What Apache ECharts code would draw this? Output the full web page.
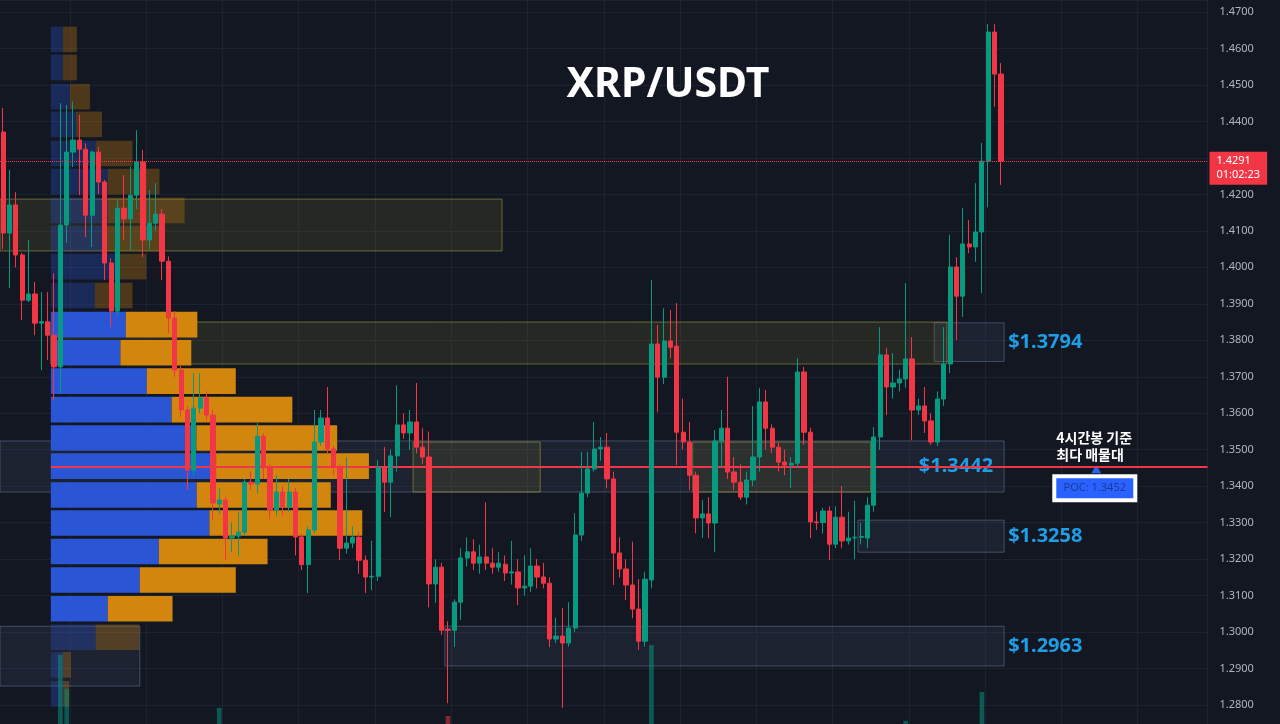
<!DOCTYPE html>
<html>
<head>
<meta charset="utf-8">
<title>XRP/USDT 4H</title>
<script src="https://cdn.jsdelivr.net/npm/echarts@6/dist/echarts.min.js"></script>
<style>
  html, body { margin: 0; padding: 0; background: #131722; }
  #chart { width: 1280px; height: 724px; }
</style>
</head>
<body>
<div id="chart"></div>
<script>
// 4h candles, oldest -> newest, [open, close, low, high]
const candles = [
  [1.4371, 1.4094, 1.4050, 1.4437], [1.4094, 1.4171, 1.3943, 1.4267], [1.4171, 1.4034, 1.4000, 1.4206],
  [1.4034, 1.3910, 1.3856, 1.4040], [1.3910, 1.3927, 1.3905, 1.4075], [1.3927, 1.3847, 1.3814, 1.3960],
  [1.3847, 1.3851, 1.3718, 1.3932], [1.3851, 1.3814, 1.3746, 1.3932], [1.3814, 1.3727, 1.3636, 1.3984],
  [1.3727, 1.4116, 1.3655, 1.4450], [1.4116, 1.4316, 1.4067, 1.4445], [1.4316, 1.4349, 1.4275, 1.4455],
  [1.4349, 1.4324, 1.4198, 1.4418], [1.4324, 1.4143, 1.4083, 1.4340], [1.4143, 1.4316, 1.4056, 1.4320],
  [1.4316, 1.4234, 1.4200, 1.4330], [1.4234, 1.4012, 1.3965, 1.4240], [1.4012, 1.3880, 1.3836, 1.4025],
  [1.3880, 1.4162, 1.3870, 1.4185], [1.4162, 1.4133, 1.4075, 1.4253], [1.4133, 1.4198, 1.4047, 1.4275],
  [1.4198, 1.4289, 1.4160, 1.4376], [1.4289, 1.4075, 1.4028, 1.4322], [1.4075, 1.4121, 1.4050, 1.4212],
  [1.4121, 1.4146, 1.4100, 1.4231], [1.4146, 1.4017, 1.3965, 1.4160], [1.4017, 1.3861, 1.3820, 1.4030],
  [1.3861, 1.3718, 1.3700, 1.3880], [1.3718, 1.3609, 1.3590, 1.3730], [1.3609, 1.3444, 1.3389, 1.3620],
  [1.3444, 1.3614, 1.3430, 1.3710], [1.3614, 1.3642, 1.3600, 1.3710], [1.3642, 1.3595, 1.3580, 1.3660],
  [1.3595, 1.3354, 1.3307, 1.3610], [1.3351, 1.3362, 1.3325, 1.3394], [1.3362, 1.3258, 1.3197, 1.3370],
  [1.3258, 1.3263, 1.3220, 1.3300], [1.3263, 1.3274, 1.3210, 1.3330], [1.3274, 1.3411, 1.3265, 1.3420],
  [1.3411, 1.3406, 1.3390, 1.3440], [1.3406, 1.3537, 1.3380, 1.3573], [1.3537, 1.3450, 1.3420, 1.3545],
  [1.3450, 1.3335, 1.3310, 1.3460], [1.3335, 1.3384, 1.3320, 1.3430], [1.3384, 1.3343, 1.3320, 1.3400],
  [1.3343, 1.3384, 1.3330, 1.3420], [1.3384, 1.3261, 1.3210, 1.3395], [1.3261, 1.3185, 1.3170, 1.3270],
  [1.3185, 1.3280, 1.3107, 1.3290], [1.3280, 1.3521, 1.3270, 1.3609], [1.3521, 1.3587, 1.3510, 1.3609],
  [1.3587, 1.3502, 1.3490, 1.3672], [1.3502, 1.3452, 1.3430, 1.3510], [1.3452, 1.3230, 1.3197, 1.3460],
  [1.3230, 1.3244, 1.3215, 1.3480], [1.3244, 1.3260, 1.3230, 1.3290], [1.3260, 1.3197, 1.3160, 1.3275],
  [1.3197, 1.3151, 1.3107, 1.3210], [1.3151, 1.3153, 1.3115, 1.3250], [1.3153, 1.3452, 1.3140, 1.3472],
  [1.3452, 1.3411, 1.3329, 1.3507], [1.3411, 1.3483, 1.3315, 1.3500], [1.3483, 1.3568, 1.3440, 1.3677],
  [1.3568, 1.3546, 1.3530, 1.3600], [1.3546, 1.3576, 1.3500, 1.3609], [1.3576, 1.3507, 1.3490, 1.3683],
  [1.3507, 1.3480, 1.3460, 1.3560], [1.3480, 1.3132, 1.3068, 1.3550], [1.3132, 1.3178, 1.3080, 1.3200],
  [1.3178, 1.3005, 1.2992, 1.3190], [1.3008, 1.3005, 1.2805, 1.3030], [1.3005, 1.3082, 1.2959, 1.3090],
  [1.3082, 1.3203, 1.3033, 1.3230], [1.3203, 1.3220, 1.3180, 1.3260], [1.3220, 1.3189, 1.3170, 1.3255],
  [1.3189, 1.3206, 1.3160, 1.3240], [1.3206, 1.3189, 1.3170, 1.3356], [1.3189, 1.3178, 1.3160, 1.3230],
  [1.3178, 1.3189, 1.3165, 1.3220], [1.3186, 1.3162, 1.3140, 1.3210], [1.3162, 1.3165, 1.3130, 1.3250],
  [1.3165, 1.3121, 1.3074, 1.3200], [1.3121, 1.3126, 1.3100, 1.3211], [1.3126, 1.3181, 1.3110, 1.3230],
  [1.3181, 1.3151, 1.3120, 1.3200], [1.3151, 1.3134, 1.3120, 1.3190], [1.3134, 1.2981, 1.2959, 1.3150],
  [1.2981, 1.2989, 1.2970, 1.3040], [1.2989, 1.2970, 1.2792, 1.3066], [1.2970, 1.3011, 1.2960, 1.3082],
  [1.3011, 1.3266, 1.3000, 1.3326], [1.3266, 1.3381, 1.3250, 1.3494], [1.3381, 1.3447, 1.3370, 1.3494],
  [1.3447, 1.3502, 1.3440, 1.3576], [1.3502, 1.3507, 1.3470, 1.3535], [1.3507, 1.3420, 1.3394, 1.3546],
  [1.3420, 1.3217, 1.3129, 1.3440], [1.3217, 1.3173, 1.3150, 1.3260], [1.3173, 1.3129, 1.3088, 1.3200],
  [1.3129, 1.3063, 1.3038, 1.3248], [1.3063, 1.2975, 1.2951, 1.3145], [1.2975, 1.3145, 1.2960, 1.3165],
  [1.3143, 1.3790, 1.3120, 1.3965], [1.3790, 1.3699, 1.3603, 1.3842], [1.3699, 1.3798, 1.3680, 1.3888],
  [1.3798, 1.3781, 1.3750, 1.3883], [1.3784, 1.3548, 1.3458, 1.3902], [1.3548, 1.3521, 1.3500, 1.3640],
  [1.3521, 1.3430, 1.3389, 1.3576], [1.3430, 1.3313, 1.3271, 1.3440], [1.3313, 1.3324, 1.3258, 1.3362],
  [1.3324, 1.3299, 1.3258, 1.3370], [1.3299, 1.3524, 1.3219, 1.3554], [1.3524, 1.3559, 1.3450, 1.3609],
  [1.3559, 1.3439, 1.3420, 1.3700], [1.3439, 1.3411, 1.3389, 1.3480], [1.3411, 1.3370, 1.3362, 1.3460],
  [1.3370, 1.3417, 1.3350, 1.3440], [1.3417, 1.3480, 1.3400, 1.3620], [1.3480, 1.3631, 1.3440, 1.3669],
  [1.3631, 1.3559, 1.3500, 1.3664], [1.3559, 1.3507, 1.3491, 1.3570], [1.3507, 1.3466, 1.3440, 1.3520],
  [1.3466, 1.3458, 1.3430, 1.3500], [1.3458, 1.3463, 1.3395, 1.3480], [1.3463, 1.3713, 1.3450, 1.3751],
  [1.3713, 1.3548, 1.3513, 1.3727], [1.3548, 1.3302, 1.3258, 1.3560], [1.3302, 1.3300, 1.3280, 1.3330],
  [1.3300, 1.3332, 1.3270, 1.3340], [1.3332, 1.3241, 1.3197, 1.3345], [1.3241, 1.3315, 1.3230, 1.3345],
  [1.3315, 1.3250, 1.3230, 1.3400], [1.3250, 1.3258, 1.3240, 1.3330], [1.3258, 1.3260, 1.3200, 1.3360],
  [1.3260, 1.3262, 1.3240, 1.3300], [1.3258, 1.3348, 1.3230, 1.3370], [1.3348, 1.3535, 1.3330, 1.3562],
  [1.3535, 1.3760, 1.3500, 1.3836], [1.3760, 1.3672, 1.3595, 1.3779], [1.3672, 1.3683, 1.3640, 1.3765],
  [1.3683, 1.3694, 1.3660, 1.3720], [1.3694, 1.3749, 1.3670, 1.3957], [1.3749, 1.3609, 1.3526, 1.3809],
  [1.3609, 1.3620, 1.3595, 1.3640], [1.3620, 1.3579, 1.3546, 1.3672], [1.3579, 1.3521, 1.3513, 1.3600],
  [1.3521, 1.3639, 1.3510, 1.3660], [1.3639, 1.3735, 1.3620, 1.3836], [1.3735, 1.4001, 1.3710, 1.4089],
  [1.4001, 1.3921, 1.3801, 1.4028], [1.3921, 1.4064, 1.3864, 1.4163], [1.4064, 1.4056, 1.4039, 1.4130],
  [1.4056, 1.4097, 1.4015, 1.4231], [1.4097, 1.4291, 1.3929, 1.4341], [1.4291, 1.4645, 1.4165, 1.4667],
  [1.4645, 1.4530, 1.4440, 1.4667], [1.4530, 1.4291, 1.4226, 1.4560]
];

// volume bars that reach into the visible pane (candle index -> volume, M XRP)
const volumeIndex = [9, 10, 34, 70, 102, 142, 154];
const volumeValue = [93, 72, 60, 55, 99, 52, 70];

// visible-range volume profile: row price, buy volume, sell volume
const vpPrice = [1.4625, 1.4548, 1.4468, 1.4392, 1.4312, 1.4235, 1.4156, 1.4079, 1.4002, 1.3923, 1.3843, 1.3766,
                 1.3688, 1.3610, 1.3532, 1.3455, 1.3376, 1.3299, 1.3221, 1.3143, 1.3064, 1.2986, 1.2910, 1.2831];
const vpBuy   = [3.8, 3.8, 6.0, 7.9, 14.1, 17.9, 17.9, 17.4, 21.0, 13.8, 23.6, 21.9,
                 30.2, 38.0, 45.8, 52.0, 45.9, 49.9, 34.0, 28.0, 17.9, 14.1, 3.8, 3.8];
const vpSell  = [4.4, 4.4, 6.3, 8.2, 11.6, 16.3, 24.2, 18.5, 9.1, 11.9, 22.5, 22.3,
                 28.0, 38.0, 44.3, 48.1, 42.2, 48.1, 34.2, 30.2, 20.4, 13.8, 2.5, 2.0];
const vaHigh = 1.3880, vaLow = 1.3025;
const pocPrice = 1.3452;
const lastPrice = 1.4291;
const countdown = '01:02:23';

// drawn zones: [first candle, last candle, top price, bottom price]
const oliveZones = [
  [0, 78, 1.4187, 1.4045],
  [8, 148, 1.3850, 1.3735],
  [65, 84, 1.3521, 1.3384],
  [109, 136, 1.3521, 1.3384]
];
const steelZones = [
  [0, 157, 1.3524, 1.3384],
  [147, 157, 1.3848, 1.3742],
  [135, 157, 1.3307, 1.3219],
  [70, 157, 1.3016, 1.2907],
  [0, 21, 1.3016, 1.2852]
];
const steelLabels = ['$1.3442', '$1.3794', '$1.3258', '$1.2963', ''];

const slotCount = 190;
const slots = [];
for (let i = 0; i < slotCount; i++) slots.push(i);

const upColor = '#089981';
const downColor = '#f23645';

let volumeData = candles.map(() => null);
volumeIndex.forEach((idx, k) => {
  let c = candles[idx];
  volumeData[idx] = {
    value: volumeValue[k],
    itemStyle: { color: c[1] >= c[0] ? 'rgba(8,153,129,0.5)' : 'rgba(242,54,69,0.5)' }
  };
});

function zoneRenderer(fill, stroke, labels) {
  return function (params, api) {
    let half = api.size([1, 0])[0] / 2;
    let p1 = api.coord([api.value(0), api.value(2)]);
    let p2 = api.coord([api.value(1), api.value(3)]);
    let x = p1[0] - half;
    let w = p2[0] + half - x;
    let children = [{
      type: 'rect',
      shape: { x: x, y: p1[1], width: w, height: p2[1] - p1[1] },
      style: { fill: fill, stroke: stroke, lineWidth: 1 }
    }];
    let text = labels ? labels[params.dataIndex] : '';
    if (text) {
      let inside = params.dataIndex === 0;
      children.push({
        type: 'text',
        style: {
          text: text,
          x: inside ? x + w - 11 : x + w + 4,
          y: (p1[1] + p2[1]) / 2,
          align: inside ? 'right' : 'left',
          verticalAlign: 'middle',
          fill: '#1f9ee6',
          font: 'bold 20px "Noto Sans"'
        }
      });
    }
    return { type: 'group', children: children };
  };
}

function renderProfile(params, api) {
  let price = api.value(0);
  let buy = api.value(1);
  let sell = api.value(2);
  let h = api.size([0, 0.0078])[1] * 0.9;
  let a = api.coord([0, price]);
  let b = api.coord([buy, price]);
  let c = api.coord([buy + sell, price]);
  let inVA = price <= vaHigh && price >= vaLow;
  let blue = inVA ? 'rgba(42,86,214,1)' : 'rgba(42,86,214,0.3)';
  let orange = inVA ? 'rgba(211,134,14,1)' : 'rgba(211,134,14,0.3)';
  return {
    type: 'group',
    children: [
      { type: 'rect', shape: { x: a[0], y: a[1] - h / 2, width: b[0] - a[0], height: h }, style: { fill: blue } },
      { type: 'rect', shape: { x: b[0], y: a[1] - h / 2, width: c[0] - b[0], height: h }, style: { fill: orange } }
    ]
  };
}

const vpAxisMin = -16, vpAxisMax = 364;
const chart = echarts.init(document.getElementById('chart'));

const option = {
  backgroundColor: '#131722',
  animation: false,
  grid: { left: -2, right: 72.5, top: 0, bottom: 0 },
  xAxis: [
    {
      type: 'category', data: slots, boundaryGap: true,
      axisLine: { show: false }, axisTick: { show: false }, axisLabel: { show: false },
      splitLine: { show: true, interval: (i) => i % 12 === 11, lineStyle: { color: '#1d2231' } }
    },
    { type: 'value', min: vpAxisMin, max: vpAxisMax, show: false }
  ],
  yAxis: [
    {
      type: 'value', position: 'right', min: 1.2748, max: 1.4733,
      minInterval: 0.01, maxInterval: 0.01, splitNumber: 20,
      axisLine: { show: false }, axisTick: { show: false },
      axisLabel: {
        color: '#b2b5be', fontSize: 11, fontFamily: 'Noto Sans', margin: 12,
        formatter: (v) => Math.abs(v * 100 - Math.round(v * 100)) < 1e-6 ? v.toFixed(4) : ''
      },
      splitLine: { lineStyle: { color: '#1d2231' } }
    },
    { type: 'value', min: 50, max: 500, show: false }
  ],
  series: [
    {
      type: 'custom', name: 'zones', xAxisIndex: 0, yAxisIndex: 0,
      renderItem: zoneRenderer('rgba(92,110,150,0.13)', 'rgba(120,136,172,0.45)', steelLabels),
      encode: { x: [0, 1], y: [2, 3] },
      data: steelZones, silent: true, z: 1
    },
    {
      type: 'custom', name: 'zones2', xAxisIndex: 0, yAxisIndex: 0,
      renderItem: zoneRenderer('rgba(140,140,48,0.15)', 'rgba(165,165,62,0.55)', null),
      encode: { x: [0, 1], y: [2, 3] },
      data: oliveZones, silent: true, z: 1
    },
    {
      type: 'custom', name: 'Volume Profile', xAxisIndex: 1, yAxisIndex: 0,
      renderItem: renderProfile,
      encode: { x: [1, 2], y: 0 },
      data: vpPrice.map((p, i) => [p, vpBuy[i], vpSell[i]]),
      silent: true, z: 2,
      markLine: {
        silent: true, symbol: 'none', z: 3, precision: 4,
        lineStyle: { color: '#f23645', width: 2, type: 'solid' },
        label: { show: false },
        data: [[{ coord: [0, pocPrice] }, { coord: [vpAxisMax, pocPrice] }]]
      }
    },
    {
      type: 'bar', name: 'Volume', xAxisIndex: 0, yAxisIndex: 1,
      data: volumeData, barWidth: '74%', z: 2
    },
    {
      type: 'candlestick', name: 'XRP/USDT', xAxisIndex: 0, yAxisIndex: 0,
      data: candles, barWidth: '74%', z: 4,
      itemStyle: { color: upColor, color0: downColor, borderColor: upColor, borderColor0: downColor, borderWidth: 1 },
      markLine: {
        silent: true, symbol: 'none', precision: 4,
        lineStyle: { color: '#f23645', width: 1, type: 'dotted' },
        label: {
          show: true, position: 'end', distance: 2,
          formatter: (p) => Number(p.value).toFixed(4) + '\n' + countdown,
          backgroundColor: '#f23645', color: '#ffffff', fontSize: 11, lineHeight: 14,
          fontFamily: 'Noto Sans', padding: [3, 7, 2, 7], offset: [0, 7]
        },
        data: [{ yAxis: lastPrice }]
      }
    }
  ]
};
chart.setOption(option);

// callout for the POC, anchored on the POC price
const anchor = chart.convertToPixel({ xAxisIndex: 0, yAxisIndex: 0 }, [172, pocPrice]);
const ax = anchor[0], ay = anchor[1];
chart.setOption({
  graphic: [
    {
      type: 'text', x: 668, y: 85,
      style: { text: 'XRP/USDT', fill: '#ffffff', font: 'bold 41px "Noto Sans"', align: 'center', verticalAlign: 'middle' }
    },
    {
      type: 'text', x: ax - 40, y: ay - 38,
      style: { text: '4시간봉 기준\n최다 매물대', fill: '#ffffff', font: 'bold 14px "Noto Sans CJK KR"', lineHeight: 17 }
    },
    {
      type: 'polygon',
      shape: { points: [[ax - 5, ay + 6], [ax + 5, ay + 6], [ax, ay - 2]] },
      style: { fill: '#2962ff' }
    },
    {
      type: 'rect',
      shape: { x: ax - 42, y: ay + 9, width: 81, height: 24 },
      style: { fill: '#2962ff', stroke: '#ffffff', lineWidth: 4 }
    },
    {
      type: 'text', x: ax - 1.5, y: ay + 21,
      style: { text: 'POC: 1.3452', fill: '#1b3c94', font: '11px "Noto Sans"', align: 'center', verticalAlign: 'middle' }
    }
  ]
});
</script>
</body>
</html>
